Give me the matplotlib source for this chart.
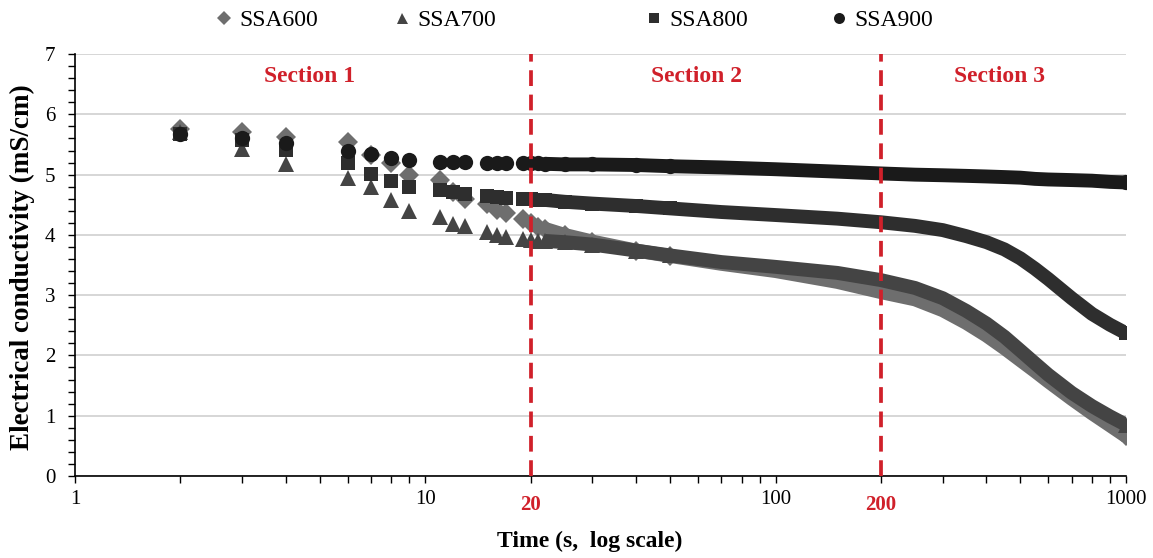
import numpy as np
import matplotlib
matplotlib.use("Agg")
import matplotlib.pyplot as plt
from matplotlib.lines import Line2D
from matplotlib.ticker import FixedLocator, NullFormatter, MultipleLocator

plt.rcParams['font.family'] = ['Liberation Serif', 'DejaVu Serif']

## temps (s) : points isoles au debut puis mesures serrees
t_early = [2, 3, 4, 6, 7, 8, 9, 11, 12, 13, 15, 16, 17, 19, 20, 21]
t_dense = [22, 25, 30, 40, 50, 70, 100, 150, 200, 250, 300, 350, 400,
           450, 500, 550, 600, 700, 800, 900, 1000]

labels = ["SSA600", "SSA700", "SSA800", "SSA900"]

ssa600_early = [5.75, 5.71, 5.63, 5.54, 5.33, 5.20, 4.99, 4.91, 4.72, 4.59,
                4.51, 4.42, 4.36, 4.27, 4.20, 4.13]
ssa700_early = [5.70, 5.42, 5.17, 4.95, 4.80, 4.58, 4.40, 4.30, 4.18, 4.14,
                4.05, 4.00, 3.97, 3.94, 3.91, 3.90]
ssa800_early = [5.68, 5.58, 5.41, 5.19, 5.01, 4.89, 4.80, 4.75, 4.71, 4.68,
                4.64, 4.63, 4.62, 4.60, 4.59, 4.58]
ssa900_early = [5.68, 5.60, 5.52, 5.39, 5.34, 5.28, 5.25, 5.21, 5.21, 5.21,
                5.20, 5.20, 5.20, 5.19, 5.19, 5.19]

ssa600_dense = [4.10, 4.00, 3.89, 3.74, 3.65, 3.52, 3.40, 3.22, 3.05, 2.93,
                2.75, 2.54, 2.33, 2.12, 1.92, 1.74, 1.57, 1.28, 1.04, 0.84,
                0.66]
ssa700_dense = [3.90, 3.88, 3.84, 3.74, 3.66, 3.55, 3.47, 3.37, 3.25, 3.12,
                2.95, 2.74, 2.53, 2.31, 2.08, 1.87, 1.68, 1.38, 1.16, 0.99,
                0.85]
ssa800_dense = [4.58, 4.55, 4.52, 4.48, 4.44, 4.38, 4.33, 4.27, 4.21, 4.15,
                4.08, 3.98, 3.88, 3.76, 3.61, 3.44, 3.27, 2.95, 2.69, 2.51,
                2.37]
ssa900_dense = [5.18, 5.17, 5.17, 5.16, 5.14, 5.12, 5.09, 5.05, 5.02, 5.00,
                4.99, 4.98, 4.97, 4.96, 4.95, 4.93, 4.92, 4.91, 4.90, 4.88,
                4.87]

section_names = ["Section 1", "Section 2", "Section 3"]
section_x = [4.66, 59.5, 436]
limits = [20, 200]

early = [ssa600_early, ssa700_early, ssa800_early, ssa900_early]
dense = [ssa600_dense, ssa700_dense, ssa800_dense, ssa900_dense]
markers = ["D", "^", "s", "o"]
colors = ["#6e6e6e", "#444444", "#2e2e2e", "#1a1a1a"]
msizes = [10.5, 11, 10, 11]
red = "#d0202a"

fig = plt.figure(figsize=(11.53, 5.58), dpi=100)
ax = fig.add_axes([0.065, 0.147, 0.9115, 0.756])

for i in range(4):
    ax.plot(t_dense, dense[i], "-", color=colors[i], lw=10,
            solid_capstyle="butt", solid_joinstyle="round", zorder=3 + i)
    # marqueurs encore distincts au debut de la section 2, et le dernier
    tm = [t for t in t_dense if t <= 50 or t == 1000]
    ym = [y for t, y in zip(t_dense, dense[i]) if t <= 50 or t == 1000]
    ax.plot(tm, ym, markers[i], color=colors[i], ms=msizes[i], mew=0,
            zorder=3 + i)
    ax.plot(t_early, early[i], markers[i], color=colors[i], ms=msizes[i],
            mew=0, zorder=3 + i)

for x in limits:
    ax.plot([x, x], [0, 7], "--", color=red, lw=2.7, dashes=(4.2, 2.3),
            zorder=10)
    ax.text(x, -0.069, str(x), transform=ax.get_xaxis_transform(),
            ha="center", va="center", color=red, fontweight="bold",
            fontsize=15)

for name, x in zip(section_names, section_x):
    ax.text(x, 6.63, name, ha="center", va="center", color=red,
            fontweight="bold", fontsize=17)

ax.set_xscale("log")
ax.set_xlim(1, 1000)
ax.set_ylim(0, 7)
ax.xaxis.set_major_locator(FixedLocator([1, 10, 100, 1000]))
ax.xaxis.set_minor_locator(FixedLocator(
    [m * 10 ** k for k in range(3) for m in range(2, 10)]))
ax.xaxis.set_minor_formatter(NullFormatter())
ax.set_xticklabels(["1", "10", "100", "1000"])
ax.yaxis.set_major_locator(MultipleLocator(1))
ax.yaxis.set_minor_locator(MultipleLocator(0.2))
ax.tick_params(axis="both", which="both", direction="out", length=5,
               width=1, labelsize=15, color="black")
ax.tick_params(axis="x", pad=5)
ax.tick_params(axis="y", pad=9)
ax.grid(axis="y", which="major", color="#d0d0d0", lw=1.2)
ax.set_axisbelow(True)
for s in ["top", "right"]:
    ax.spines[s].set_visible(False)
ax.spines["left"].set_linewidth(1.2)
ax.spines["bottom"].set_linewidth(1.2)

fig.text(22 / 1153, 1 - 267 / 558, "Electrical conductivity (mS/cm)",
         rotation=90, ha="center", va="center", fontweight="bold",
         fontsize=19.5)
fig.text(590 / 1153, 1 - 541 / 558, "Time (s,  log scale)", ha="center",
         va="center", fontweight="bold", fontsize=17)

## legende : une entree par serie, espacement irregulier comme l'original
leg_x = [212, 390, 642, 827]
for i in range(4):
    h = Line2D([], [], ls="", marker=markers[i], color=colors[i],
               ms=msizes[i] * 0.72, mew=0)
    leg = fig.legend([h], [labels[i]], loc="center left",
                     bbox_to_anchor=(leg_x[i] / 1153, 1 - 20 / 558),
                     frameon=False, fontsize=17, handletextpad=0.15,
                     handlelength=1.0, borderpad=0, borderaxespad=0)

fig.savefig("out.png", dpi=100)
